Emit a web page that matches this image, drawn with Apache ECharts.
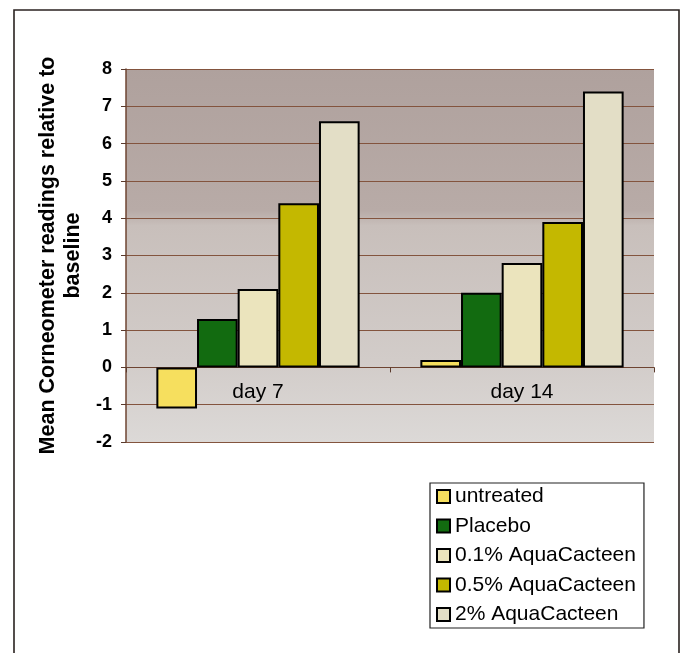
<!DOCTYPE html>
<html>
<head>
<meta charset="utf-8">
<script src="https://cdn.jsdelivr.net/npm/echarts@6/dist/echarts.min.js"></script>
<style>
html,body{margin:0;padding:0;background:#fff;}
#c{width:683px;height:653px;}
</style>
</head>
<body>
<div id="c"></div>
<script>
var categories = ['day 7', 'day 14'];
var seriesNames = ['untreated', 'Placebo', '0.1% AquaCacteen', '0.5% AquaCacteen', '2% AquaCacteen'];
var untreated = [-1.1, 0.2];
var placebo = [1.3, 2.0];
var aqua01 = [2.1, 2.8];
var aqua05 = [4.4, 3.9];
var aqua2 = [6.6, 7.4];
var yTicks = [-2, -1, 0, 1, 2, 3, 4, 5, 6, 7, 8];

var seriesValues = [untreated, placebo, aqua01, aqua05, aqua2];
var colors = ['#f6df5e', '#126b10', '#ebe4bd', '#c4b800', '#e3dec6'];

var chart = echarts.init(document.getElementById('c'));
var font = 'Arial, "Liberation Sans", sans-serif';

var gridTop = 69, gridBottom = 211, chartH = 653;
var yMin = -2, yMax = 8;
var plotH = chartH - gridTop - gridBottom;
// distance from the bottom of the plot to the zero line, so the category axis sits on zero
var zeroOffset = plotH * (0 - yMin) / (yMax - yMin);

chart.setOption({
  backgroundColor: '#ffffff',
  animation: false,
  graphic: [{
    type: 'rect',
    shape: {x: 14, y: 10, width: 665, height: 680},
    style: {fill: 'none', stroke: '#2a2220', lineWidth: 1.6},
    silent: true
  }],
  grid: {
    left: 126, right: 29, top: gridTop, bottom: gridBottom,
    show: true,
    borderWidth: 0,
    backgroundColor: new echarts.graphic.LinearGradient(0, 0, 0, 1, [
      {offset: 0, color: '#afa19d'},
      {offset: 0.38, color: '#b8aba7'},
      {offset: 0.42, color: '#c8bfbb'},
      {offset: 0.78, color: '#d2ccc9'},
      {offset: 1, color: '#dcd9d7'}
    ])
  },
  legend: {
    orient: 'vertical',
    left: 430, top: 483,
    padding: [3, 8, 3, 6],
    itemGap: 8.5,
    itemWidth: 13, itemHeight: 13,
    icon: 'rect',
    borderColor: '#222', borderWidth: 1.2,
    backgroundColor: '#fff',
    textStyle: {fontFamily: font, fontSize: 21, color: '#000', lineHeight: 21},
    data: seriesNames
  },
  xAxis: {
    type: 'category',
    data: categories,
    offset: -zeroOffset,
    axisLine: {onZero: false, lineStyle: {color: '#6e4432', width: 1}},
    axisTick: {show: true, length: 5, lineStyle: {color: '#5a3a2c'}},
    axisLabel: {fontFamily: font, fontSize: 21, color: '#000', margin: 14}
  },
  yAxis: {
    type: 'value',
    min: yMin, max: yMax, interval: 1,
    name: 'Mean Corneometer readings relative to\nbaseline',
    nameLocation: 'middle',
    nameRotate: 90,
    nameGap: 39,
    nameTextStyle: {fontFamily: font, fontSize: 21.5, fontWeight: 'bold', color: '#000', lineHeight: 25, align: 'center'},
    axisLine: {show: true, lineStyle: {color: '#6e4432', width: 1.5}},
    axisTick: {show: true, length: 5, lineStyle: {color: '#5a3a2c'}},
    axisLabel: {fontFamily: font, fontSize: 18, fontWeight: 'bold', color: '#000', margin: 14,
      formatter: function (v) { return yTicks.indexOf(v) >= 0 ? String(v) : ''; }},
    splitLine: {show: true, lineStyle: {color: '#83543e', width: 1}}
  },
  series: seriesNames.map(function (n, i) {
    return {
      name: n,
      type: 'bar',
      data: seriesValues[i],
      barGap: '0%',
      barCategoryGap: '23%',
      itemStyle: {color: colors[i], borderColor: '#000', borderWidth: 2}
    };
  })
});
</script>
</body>
</html>
